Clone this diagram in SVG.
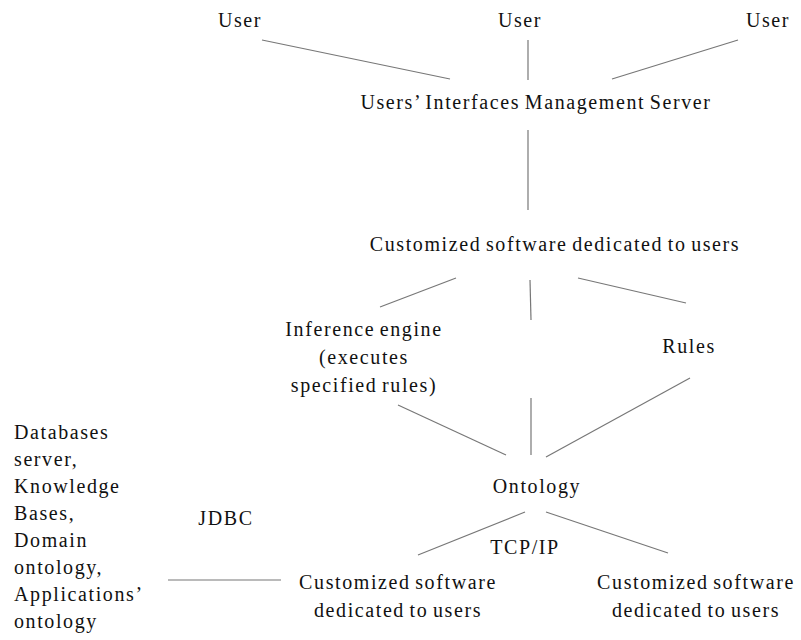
<svg xmlns="http://www.w3.org/2000/svg" width="801" height="640" viewBox="0 0 801 640">
<style>
text{font-family:"Liberation Serif","Times New Roman",serif;font-size:20px;fill:#111;letter-spacing:1.6px;word-spacing:-2px}
.c{text-anchor:middle}
.ln{stroke:#777;stroke-width:1.2;fill:none}
</style>
<rect width="801" height="640" fill="#fff"/>
<g id="connectors">
<line class="ln" x1="262" y1="40" x2="450" y2="79"/>
<line class="ln" x1="528" y1="40" x2="528" y2="80"/>
<line class="ln" x1="738" y1="40" x2="612" y2="79"/>
<line class="ln" x1="528" y1="130" x2="528" y2="210"/>
<line class="ln" x1="456" y1="278" x2="380" y2="307"/>
<line class="ln" x1="530" y1="280" x2="531" y2="320"/>
<line class="ln" x1="578" y1="278" x2="686" y2="303"/>
<line class="ln" x1="398" y1="405" x2="506" y2="455"/>
<line class="ln" x1="531" y1="398" x2="531" y2="455"/>
<line class="ln" x1="690" y1="378" x2="546" y2="457"/>
<line class="ln" x1="525" y1="512" x2="418" y2="555"/>
<line class="ln" x1="546" y1="512" x2="668" y2="553"/>
<line class="ln" x1="168" y1="580" x2="281" y2="580"/>
</g>
<g id="user1"><text class="c" x="240" y="27">User</text></g>
<g id="user2"><text class="c" x="520" y="27">User</text></g>
<g id="user3"><text class="c" x="768" y="27">User</text></g>
<g id="uims"><text class="c" x="536" y="109">Users’ Interfaces Management Server</text></g>
<g id="custom"><text class="c" x="555" y="251">Customized software dedicated to users</text></g>
<g id="inference"><text class="c" x="364" y="336">Inference engine</text><text class="c" x="364" y="364">(executes</text><text class="c" x="364" y="392">specified rules)</text></g>
<g id="rules"><text class="c" x="689" y="353">Rules</text></g>
<g id="ontology"><text class="c" x="537" y="493">Ontology</text></g>
<g id="tcpip"><text class="c" x="525" y="554">TCP/IP</text></g>
<g id="jdbc"><text class="c" x="226" y="525">JDBC</text></g>
<g id="dbserver"><text x="14" y="439">Databases</text><text x="14" y="466">server,</text><text x="14" y="493">Knowledge</text><text x="14" y="520">Bases,</text><text x="14" y="547">Domain</text><text x="14" y="574">ontology,</text><text x="14" y="601">Applications’</text><text x="14" y="628">ontology</text></g>
<g id="custom2"><text class="c" x="398" y="589">Customized software</text><text class="c" x="398" y="617">dedicated to users</text></g>
<g id="custom3"><text class="c" x="696" y="589">Customized software</text><text class="c" x="696" y="617">dedicated to users</text></g>
</svg>
